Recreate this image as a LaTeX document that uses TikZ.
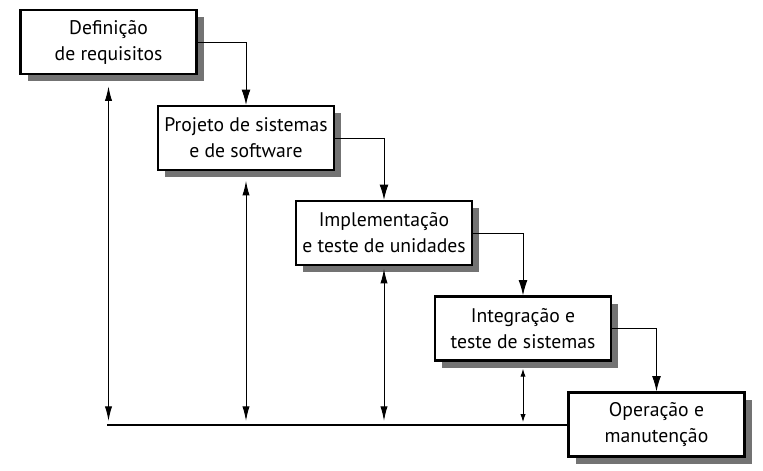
\documentclass[tikz,border=0pt]{standalone}
\usepackage{fontspec}
\setmainfont{PT Sans}
\usetikzlibrary{arrows.meta,shadows}
\begin{document}
\begin{tikzpicture}[x=0.025cm,y=-0.025cm]
        \tikzstyle{phase}=[rectangle,draw,line width=1.6pt,fill=white,minimum width=4.4cm,minimum height=1.6cm,align=center,font=\fontsize{14}{18.5}\selectfont,drop shadow={shadow xshift=5pt,shadow yshift=-5pt,fill=black!55,opacity=1}]
        \tikzstyle{flow}=[line width=0.7pt,-{Latex[length=3.8mm,width=2.2mm]}]
        \tikzstyle{back}=[line width=0.7pt,{Latex[length=3.6mm,width=1.8mm]}-{Latex[length=3.6mm,width=1.8mm]},shorten >=3pt]
        \useasboundingbox (0,0) rectangle (763,471);
        \node [phase] (req) at (108.5,42) {Definição\\de requisitos};
        \node [phase] (proj) at (246,138) {Projeto de sistemas\\e de software};
        \node [phase] (impl) at (384,233) {Implementação\\e teste de unidades};
        \node [phase] (integ) at (523,328.5) {Integração e\\teste de sistemas};
        \node [phase] (oper) at (656.5,424.5) {Operação e\\manutenção};
        \coordinate (base) at (107,425);
        \draw [line width=0.9pt] (base) -- (base -| oper.west);
        \draw [flow] (req) -| (proj);
        \draw [flow] (proj) -| (impl);
        \draw [flow] (impl) -| (integ);
        \draw [flow] (integ) -| (oper);
        \draw [back] ([yshift=-8pt]req.south) -- (req.south |- base);
        \draw [back] ([yshift=-7pt]proj.south) -- (proj.south |- base);
        \draw [back] ([yshift=-2pt]impl.south) -- (impl.south |- base);
        \draw [back,{Latex[length=2mm,width=1.3mm]}-{Latex[length=2mm,width=1.3mm]},shorten >=2pt] ([yshift=-5pt]integ.south) -- (integ.south |- base);
\end{tikzpicture}
\end{document}
